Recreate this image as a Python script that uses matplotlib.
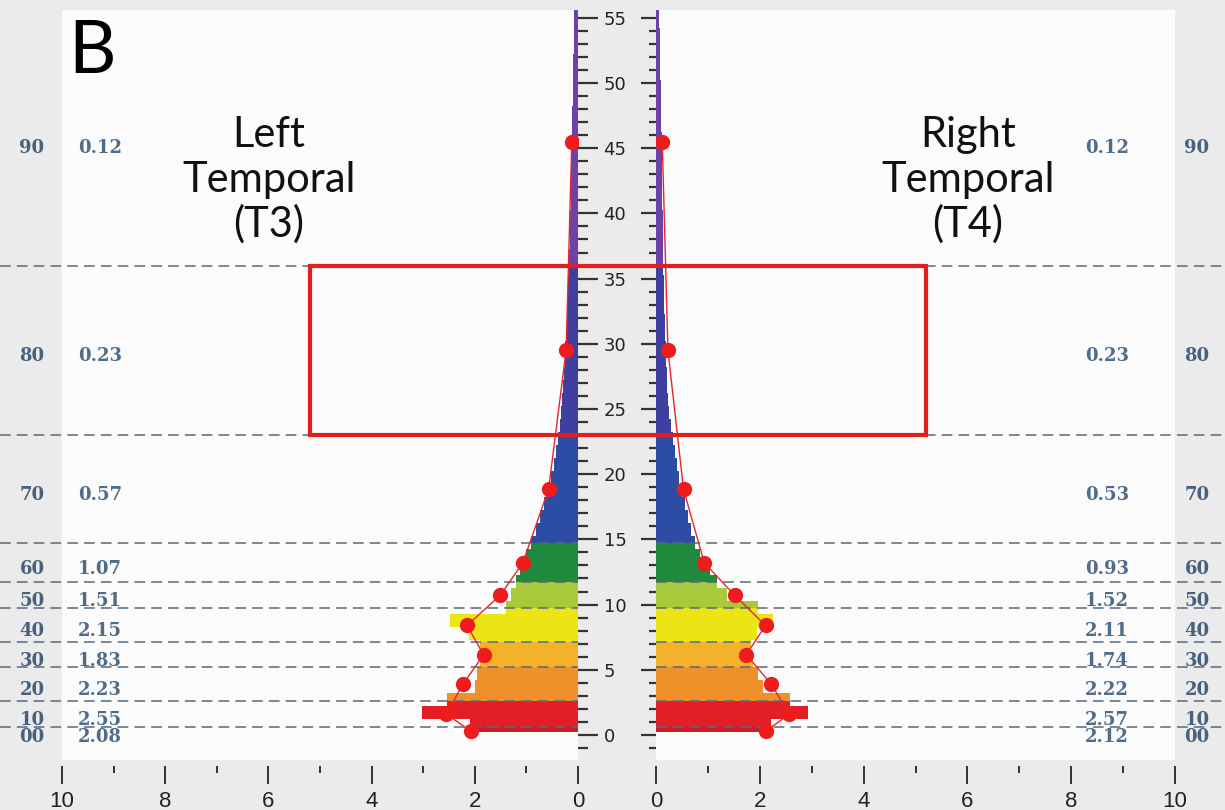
import numpy as np
import matplotlib.pyplot as plt
from matplotlib.transforms import blended_transform_factory, offset_copy
from matplotlib.patches import Rectangle
from matplotlib.ticker import MultipleLocator

# Histogram bins (1 unit tall, first bin starts at 0.25)
bin_start = 0.25
bin_height = 1.0

left_hist = [2.09, 3.02, 2.54, 2.00, 1.95, 1.90, 1.90, 2.12, 2.48, 1.40,
             1.30, 1.20, 1.12, 1.00, 0.92, 0.82, 0.74, 0.66, 0.58, 0.52,
             0.46, 0.42, 0.38, 0.35, 0.33, 0.31, 0.29, 0.27, 0.26, 0.25,
             0.24, 0.22, 0.21, 0.20, 0.19, 0.18, 0.17, 0.16, 0.16, 0.15,
             0.14, 0.14, 0.13, 0.13, 0.12, 0.12, 0.11, 0.11, 0.10, 0.10,
             0.09, 0.09, 0.08, 0.08, 0.07, 0.07]
right_hist = [2.22, 2.93, 2.58, 2.06, 1.97, 1.87, 1.84, 1.95, 2.26, 1.97,
              1.36, 1.17, 1.04, 0.85, 0.76, 0.68, 0.62, 0.56, 0.50, 0.45,
              0.41, 0.37, 0.32, 0.28, 0.25, 0.23, 0.22, 0.21, 0.20, 0.19,
              0.18, 0.17, 0.16, 0.16, 0.15, 0.14, 0.14, 0.13, 0.13, 0.13,
              0.12, 0.12, 0.12, 0.11, 0.11, 0.11, 0.10, 0.10, 0.09, 0.09,
              0.08, 0.08, 0.07, 0.07, 0.06, 0.06]

# decile bands
band_edges = [0, 0.6, 2.6, 5.2, 7.1, 9.7, 11.7, 14.7, 23.0, 36.0, 55.0]
band_labels = ['00', '10', '20', '30', '40', '50', '60', '70', '80', '90']
band_colors = ['#c41f2b', '#e41e26', '#f0902a', '#f4b12c', '#ece516',
               '#a8c93c', '#1f8a3e', '#2d4ca3', '#3f3f9f', '#6a42a8']
left_means = [2.08, 2.55, 2.23, 1.83, 2.15, 1.51, 1.07, 0.57, 0.23, 0.12]
right_means = [2.12, 2.57, 2.22, 1.74, 2.11, 1.52, 0.93, 0.53, 0.23, 0.12]

box_x = 5.2
box_y = (23.0, 36.0)

W, H = 1225, 810
fig = plt.figure(figsize=(W / 100, H / 100), dpi=100, facecolor='#ebebeb')

axL = fig.add_axes([62 / W, 50 / H, 516 / W, 750 / H])
axR = fig.add_axes([656 / W, 50 / H, 519 / W, 750 / H])

ymin, ymax = -1.92, 55.6
mids = [(band_edges[i] + band_edges[i + 1]) / 2 for i in range(len(band_labels))]
narrow = ['DejaVu Sans Condensed', 'Liberation Sans Narrow', 'Liberation Sans']


def split_bars(hist):
    # cut each histogram bar where a decile band boundary falls
    ys, hs, ws, cs = [], [], [], []
    upper = band_edges[:-1] + [np.inf]
    for k, w in enumerate(hist):
        lo = bin_start + k * bin_height
        hi = lo + bin_height
        for b in range(len(band_labels)):
            s = max(lo, band_edges[b])
            e = min(hi, upper[b + 1])
            if e > s:
                ys.append(s)
                hs.append(e - s)
                ws.append(w)
                cs.append(band_colors[b])
    return ys, hs, ws, cs


for ax, hist, means in [(axL, left_hist, left_means), (axR, right_hist, right_means)]:
    ax.set_facecolor('#fbfbfb')
    ys, hs, ws, cs = split_bars(hist)
    ax.barh(ys, ws, height=hs, align='edge', color=cs, linewidth=0, zorder=1)
    ax.plot(means, mids, color='#e8262a', lw=1.0, zorder=3)
    ax.plot(means, mids, 'o', color='#ee1c1c', ms=10, zorder=4)
    ax.set_ylim(ymin, ymax)
    for s in ax.spines.values():
        s.set_visible(False)
    ax.spines['bottom'].set_visible(True)
    ax.spines['bottom'].set_color('none')
    ax.spines['bottom'].set_position(('outward', 4))
    ax.xaxis.set_major_locator(MultipleLocator(2))
    ax.xaxis.set_minor_locator(MultipleLocator(1))
    ax.tick_params(axis='x', which='major', direction='out', length=13, width=1.4,
                   color='#333333', pad=5, labelsize=16, labelcolor='#222222')
    ax.tick_params(axis='x', which='minor', direction='out', length=5, width=1.4,
                   color='#333333')
    for lab in ax.get_xticklabels():
        lab.set_family(narrow)
    ax.yaxis.set_major_locator(MultipleLocator(5))
    ax.yaxis.set_minor_locator(MultipleLocator(1))

axL.set_xlim(10, 0)
axR.set_xlim(0, 10)

# centre axis: ticks of both panels point into the grey strip
axL.yaxis.set_ticks_position('right')
axL.tick_params(axis='y', which='major', direction='out', length=14.4, width=1.6,
                color='#333333', labelright=True, labelleft=False, pad=4,
                labelsize=13, labelcolor='#222222')
axL.tick_params(axis='y', which='minor', direction='out', length=7.2, width=1.6,
                color='#333333')
axR.yaxis.set_ticks_position('left')
axR.tick_params(axis='y', which='major', direction='out', length=10.8, width=1.6,
                color='#333333', labelleft=False)
axR.tick_params(axis='y', which='minor', direction='out', length=5, width=1.6,
                color='#333333')

# dashed decile boundaries running out to the figure edges
xl = -62 / 516
xr = (W - 656) / 519
for y in band_edges[1:-1]:
    axL.axhline(y, xmin=xl, xmax=1, color='#56697e', lw=1.1, ls=(0, (7, 4)),
                clip_on=False, zorder=2)
    axR.axhline(y, xmin=0, xmax=xr, color='#56697e', lw=1.1, ls=(0, (7, 4)),
                clip_on=False, zorder=2)

# decile labels and band values (sit a few pixels below the band middle)
trL = offset_copy(blended_transform_factory(fig.transFigure, axL.transData), fig=fig, y=-6, units='dots')
trR = offset_copy(blended_transform_factory(fig.transFigure, axR.transData), fig=fig, y=-6, units='dots')
vL = offset_copy(axL.transData, fig=fig, y=-6, units='dots')
vR = offset_copy(axR.transData, fig=fig, y=-6, units='dots')
lab_kw = dict(va='center', fontsize=13, fontweight='bold', family='DejaVu Serif')
for lab, y, lv, rv in zip(band_labels, mids, left_means, right_means):
    fig.text(32 / W, y, lab, transform=trL, ha='center', color='#46627e', **lab_kw)
    fig.text(1197 / W, y, lab, transform=trR, ha='center', color='#46627e', **lab_kw)
    axL.text(9.69, y, '%.2f' % lv, transform=vL, ha='left', color='#4f6c89',
             zorder=5, **lab_kw)
    axR.text(8.27, y, '%.2f' % rv, transform=vR, ha='left', color='#4f6c89',
             zorder=5, **lab_kw)

# red box across both panels
p0 = fig.transFigure.inverted().transform(axL.transData.transform((box_x, box_y[0])))
p1 = fig.transFigure.inverted().transform(axR.transData.transform((box_x, box_y[1])))
fig.add_artist(Rectangle(p0, p1[0] - p0[0], p1[1] - p0[1], transform=fig.transFigure,
                         fill=False, edgecolor='#e02020', lw=3, zorder=6))

# titles
fam = ['Lato', 'DejaVu Sans']
fig.text(68 / W, 1 - 73 / H, 'B', ha='left', va='baseline', fontsize=53, family=fam)
left_title = ['Left', 'Temporal', '(T3)']
right_title = ['Right', 'Temporal', '(T4)']
for i in range(3):
    fig.text(269 / W, 1 - (147 + 45 * i) / H, left_title[i], ha='center',
             va='baseline', fontsize=30, family=fam, color='#111111')
    fig.text(968 / W, 1 - (147 + 45 * i) / H, right_title[i], ha='center',
             va='baseline', fontsize=30, family=fam, color='#111111')

fig.savefig('out.png', dpi=100, facecolor=fig.get_facecolor())
